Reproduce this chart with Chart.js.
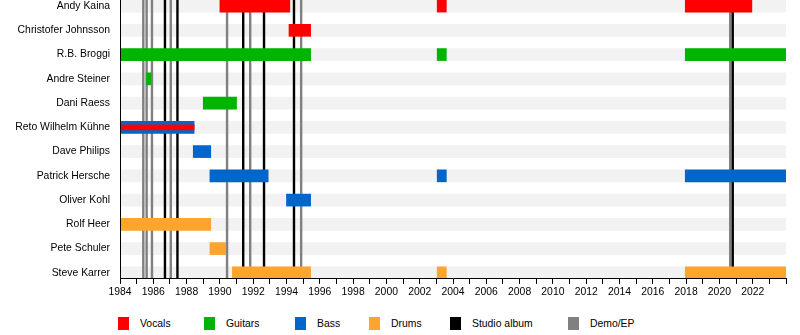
<!DOCTYPE html>
<html>
<head>
<meta charset="utf-8">
<script src="https://cdn.jsdelivr.net/npm/chart.js@4/dist/chart.umd.min.js"></script>
<style>
  html, body { margin: 0; padding: 0; background: #fff; }
  #wrap { position: relative; width: 800px; height: 335px; font-family: "Liberation Sans", Arial, sans-serif; }
  #chart { position: absolute; left: 0; top: 0; }
  #legend { position: absolute; left: 118px; top: 317px; display: flex; font-size: 10.4px; color: #000; }
  .item { display: flex; align-items: center; }
  .swatch { width: 11px; height: 13px; margin-right: 11px; flex: none; }
</style>
</head>
<body>
<div id="wrap">
  <canvas id="chart" width="800" height="306"></canvas>
  <div id="legend"></div>
</div>
<script>
const MEMBERS = [
  "Andy Kaina", "Christofer Johnsson", "R.B. Broggi", "Andre Steiner", "Dani Raess",
  "Reto Wilhelm Kühne", "Dave Philips", "Patrick Hersche", "Oliver Kohl", "Rolf Heer",
  "Pete Schuler", "Steve Karrer"
];
const YEAR_MIN = 1984;
const YEAR_MAX = 2024;

// [member, from, to]
const VOCALS = [
  ["Andy Kaina", 1990.0, 1994.2],
  ["Andy Kaina", 2003.05, 2003.6],
  ["Andy Kaina", 2017.95, 2021.95],
  ["Christofer Johnsson", 1994.15, 1995.45]
];
const VOCALS_SHARED = [
  ["Reto Wilhelm Kühne", 1984, 1988.45]
];
const GUITARS = [
  ["R.B. Broggi", 1984, 1995.45],
  ["R.B. Broggi", 2003.05, 2003.6],
  ["R.B. Broggi", 2017.95, 2024],
  ["Andre Steiner", 1985.6, 1985.85],
  ["Dani Raess", 1989.0, 1991.0]
];
const BASS = [
  ["Reto Wilhelm Kühne", 1984, 1988.45],
  ["Dave Philips", 1988.4, 1989.45],
  ["Patrick Hersche", 1989.4, 1992.9],
  ["Patrick Hersche", 2003.05, 2003.6],
  ["Patrick Hersche", 2017.95, 2024],
  ["Oliver Kohl", 1994.0, 1995.45]
];
const DRUMS = [
  ["Rolf Heer", 1984, 1989.45],
  ["Pete Schuler", 1989.4, 1990.35],
  ["Steve Karrer", 1990.75, 1995.45],
  ["Steve Karrer", 2003.05, 2003.6],
  ["Steve Karrer", 2017.95, 2024]
];
const STUDIO_ALBUMS = [1986.7, 1987.45, 1991.4, 1992.65, 1994.45, 2020.8];
const DEMOS = [1985.4, 1985.6, 1985.92, 1987.05, 1990.43, 1991.82, 1994.88, 2020.65];

const COLORS = {
  vocals: "#ff0000",
  guitars: "#00b400",
  bass: "#0066cc",
  drums: "#ffa42c",
  studio: "#000000",
  demo: "#808080",
  stripe: "#f2f2f2"
};
const LEGEND = [
  ["Vocals", COLORS.vocals],
  ["Guitars", COLORS.guitars],
  ["Bass", COLORS.bass],
  ["Drums", COLORS.drums],
  ["Studio album", COLORS.studio],
  ["Demo/EP", COLORS.demo]
];
const LEGEND_WIDTHS = [86, 91, 74, 81, 118, 80];

const FONT = { family: '"Liberation Sans", Arial, sans-serif', size: 10.4 };
const ROW_TOP = -0.25;
const ROW_BOTTOM = MEMBERS.length - 0.75;

function barSet(rows, color, thickness, order) {
  return {
    type: "bar",
    data: rows.map(([m, a, b]) => ({ x: [a, b], y: MEMBERS.indexOf(m) })),
    backgroundColor: color,
    barThickness: thickness,
    grouped: false,
    order: order
  };
}
function lineSet(year, color, order) {
  return {
    type: "line",
    data: [{ x: year, y: ROW_TOP }, { x: year, y: ROW_BOTTOM }],
    borderColor: color,
    borderWidth: 2.4,
    pointRadius: 0,
    fill: false,
    order: order
  };
}

const datasets = [
  barSet(MEMBERS.map((m) => [m, YEAR_MIN, YEAR_MAX]), COLORS.stripe, 12, 4),
  ...DEMOS.map((y) => lineSet(y, COLORS.demo, 3)),
  ...STUDIO_ALBUMS.map((y) => lineSet(y, COLORS.studio, 2)),
  barSet(VOCALS, COLORS.vocals, 12, 1),
  barSet(GUITARS, COLORS.guitars, 12, 1),
  barSet(BASS, COLORS.bass, 12, 1),
  barSet(DRUMS, COLORS.drums, 12, 1),
  barSet(VOCALS_SHARED, COLORS.vocals, 5, 0)
];

new Chart(document.getElementById("chart"), {
  type: "bar",
  data: { datasets },
  options: {
    indexAxis: "y",
    responsive: false,
    animation: false,
    events: [],
    layout: { padding: { left: 0, right: 14, top: 0, bottom: 5.6 } },
    plugins: { legend: { display: false }, tooltip: { enabled: false } },
    scales: {
      x: {
        type: "linear",
        position: "bottom",
        offset: false,
        min: YEAR_MIN,
        max: YEAR_MAX,
        afterBuildTicks: (s) => {
          const t = [];
          for (let y = YEAR_MIN; y <= YEAR_MAX; y++) t.push({ value: y });
          s.ticks = t;
        },
        afterFit: (s) => { s.paddingLeft = 0; s.paddingRight = 0; },
        ticks: {
          autoSkip: false,
          maxRotation: 0,
          color: "#000",
          font: FONT,
          padding: 2,
          callback: (v) => (v % 2 === 0 && v < YEAR_MAX ? String(v) : "")
        },
        grid: { offset: false, drawOnChartArea: false, drawTicks: true, tickLength: 5, tickColor: "#000", color: "#000" },
        border: { color: "#000", width: 1, z: 1 }
      },
      y: {
        type: "linear",
        reverse: true,
        offset: false,
        min: ROW_TOP,
        max: ROW_BOTTOM,
        afterBuildTicks: (s) => { s.ticks = MEMBERS.map((_, i) => ({ value: i })); },
        afterFit: (s) => { s.width = 120; s.paddingTop = 0; s.paddingBottom = 0; },
        ticks: {
          color: "#000",
          font: FONT,
          padding: 10,
          callback: (v) => MEMBERS[v] ?? ""
        },
        grid: { offset: false, display: false, drawTicks: false },
        border: { color: "#000", width: 1, z: 1 }
      }
    }
  }
});

const legend = document.getElementById("legend");
LEGEND.forEach(([label, color], i) => {
  const item = document.createElement("div");
  item.className = "item";
  item.style.width = LEGEND_WIDTHS[i] + "px";
  const sw = document.createElement("span");
  sw.className = "swatch";
  sw.style.background = color;
  const tx = document.createElement("span");
  tx.textContent = label;
  item.append(sw, tx);
  legend.append(item);
});
</script>
</body>
</html>
